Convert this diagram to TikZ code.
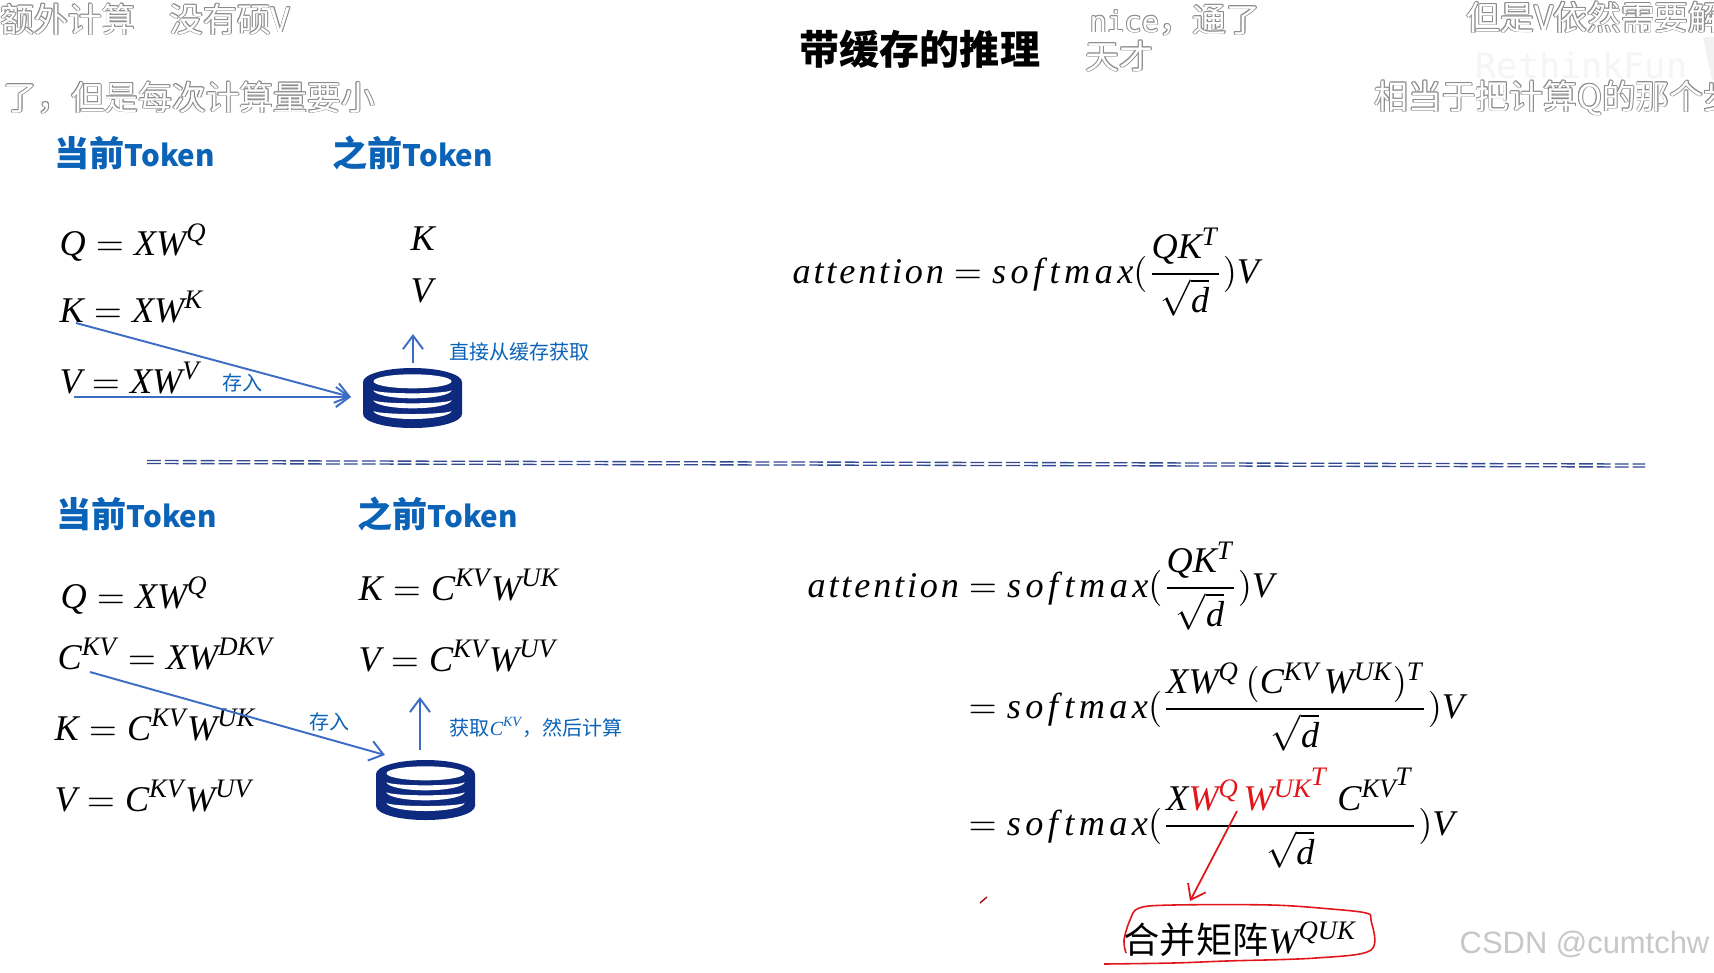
\documentclass[tikz,border=0pt]{standalone}
\usepackage{fix-cm}
\usepackage{amsmath}
\usepackage{fontspec}
\usepackage{xcolor}
\usetikzlibrary{arrows.meta,positioning}
\newfontfamily\cjk{Noto Sans CJK SC}
\newfontfamily\ghostmono{DejaVu Sans Mono}
\newfontfamily\wmark{Liberation Sans}
\newfontfamily\libmath[NFSSFamily=libmath]{Liberation Serif}
\DeclareSymbolFont{letters}{TU}{libmath}{m}{it}
\DeclareMathSizes{10.3}{10.3}{7.6}{6}
\definecolor{headblue}{HTML}{0B63B8}
\definecolor{linkblue}{HTML}{3D6CC4}
\definecolor{stacknavy}{HTML}{0E2A7E}
\definecolor{penred}{HTML}{E0161A}
\definecolor{ghostline}{HTML}{8C8C8C}
\newcommand{\ghostcopy}[3]{\rlap{\kern#1\raisebox{#2}{#3}}}
\newcommand{\ghosttext}[1]{{\color{ghostline}%
    \ghostcopy{.26pt}{0pt}{#1}\ghostcopy{-.26pt}{0pt}{#1}%
    \ghostcopy{0pt}{.26pt}{#1}\ghostcopy{0pt}{-.26pt}{#1}%
    \ghostcopy{.18pt}{.18pt}{#1}\ghostcopy{-.18pt}{.18pt}{#1}%
    \ghostcopy{.18pt}{-.18pt}{#1}\ghostcopy{-.18pt}{-.18pt}{#1}}%
    {\color{white}#1}}
\newcommand{\tok}{{\fontsize{8.4}{10}\selectfont Token}}
\newcommand{\softmax}{s\mkern2.2mu o\mkern2.2mu f\mkern3.2mu t\mkern2.2mu m\mkern2.2mu a\mkern2.2mu x}
\newcommand{\attention}{a\mkern1.4mu t\mkern1.4mu t\mkern1.4mu e\mkern1.4mu n\mkern1.4mu t\mkern1.4mu i\mkern1.4mu o\mkern1.4mu n}
\tikzset{
    heading/.style={
        anchor=base west, inner sep=0pt, text=headblue,
        font=\cjk\bfseries\fontsize{10}{12}\selectfont
    },
    title/.style={
        anchor=base west, inner sep=0pt,
        font=\cjk\bfseries\fontsize{11.4}{13}\selectfont
    },
    eqn/.style={
        anchor=base west, inner sep=0pt,
        font=\fontsize{10.3}{13}\selectfont
    },
    tinylabel/.style={
        anchor=base west, inner sep=0pt, text=headblue,
        font=\cjk\fontsize{5.7}{7}\selectfont
    },
    ghost/.style={
        anchor=base west, inner sep=0pt,
        font=\cjk\fontsize{9.6}{11}\selectfont
    },
    arrow/.style={-{Straight Barb[length=1.35mm,width=2mm]},draw=linkblue,line width=.55pt},
    redarrow/.style={-{Straight Barb[length=1.35mm,width=2mm]},draw=penred,line width=.5pt},
    penloop/.style={draw=penred,line width=.45pt},
    sepline/.style={draw=stacknavy!85!white,line width=.38pt,dash pattern=on 1.38mm off .41mm},
    dbstack/.pic={
        \begin{scope}[y=1cm]
        \fill[stacknavy] (-.495,.16) arc[start angle=180,end angle=0,x radius=.495,y radius=.14]
            -- (.495,-.16) arc[start angle=360,end angle=180,x radius=.495,y radius=.14] -- cycle;
        \fill[white] (0,.167) ellipse[x radius=.39,y radius=.07];
        \foreach \ypos in {.08,-.02,-.127} {
            \fill[white] (-.39,\ypos) arc[start angle=180,end angle=360,x radius=.39,y radius=.083]
                arc[start angle=360,end angle=180,x radius=.39,y radius=.033] -- cycle;
        }
        \end{scope}
    }
}

\begin{document}
\begin{tikzpicture}[x=1cm, y=-1cm]
\useasboundingbox[fill=white] (0,0) rectangle (17.14,9.72);

%% Faint marks behind the subtitles
\fill[black!5] (17.03, .37) -- (17.12, .80) -- (17.14, .80) -- (17.14, .37) -- cycle;
\node[anchor=base west,inner sep=0pt,text=black!4,font=\ghostmono\fontsize{10}{12}\selectfont] (wmA) at (14.75, .78) {RethinkFun};

%% Subtitles burned into the frame
\node[ghost] (subA) at (0, .32)    {\ghosttext{额外计算}};
\node[ghost] (subB) at (1.69, .32) {\ghosttext{没有硕V}};
\node[ghost] (subC) at (.03, 1.10) {\ghosttext{了，但是每次计算量要小}};
\node[ghost] (subD) at (10.89, .32) {\ghosttext{{\ghostmono\fontsize{8.2}{10}\selectfont nice}，通了}};
\node[ghost] (subE) at (10.85, .69) {\ghosttext{天才}};
\node[ghost] (subF) at (14.66, .30) {\ghosttext{但是V依然需要解}};
\node[ghost] (subG) at (13.74, 1.09) {\ghosttext{相当于把计算Q的那个步}};

\node[title] (title) at (7.99, .64) {带缓存的推理};

%% Upper half -- without the split
\node[heading] (curA)  at (.54, 1.66)  {当前\tok};
\node[heading] (prevA) at (3.32, 1.66) {之前\tok};

\node[eqn] (qA) at (.59, 2.55) {$Q = XW^{Q}$};
\node[eqn] (kA) at (.59, 3.22) {$K = XW^{K}$};
\node[eqn] (vA) at (.59, 3.93) {$V = XW^{V}$};
\node[eqn] (kB) at (4.10, 2.50) {$K$};
\node[eqn] (vB) at (4.10, 3.02) {$V$};

\pic at (4.125, 3.98) {dbstack};
\coordinate (dbA)  at (3.51, 3.97);
\coordinate (dbAup) at (4.13, 3.63);
\coordinate (kAtail) at (.76, 3.23);
\coordinate (vAtail) at (.74, 3.97);
\coordinate (vBfoot) at (4.13, 3.34);

\draw[arrow] (kAtail) -- (dbA);
\draw[arrow] (vAtail) -- (dbA);
\draw[arrow] (dbAup) -- (vBfoot);
\node[tinylabel] (saveA) at (2.22, 3.90) {存入};
\node[tinylabel] (readA) at (4.49, 3.59) {直接从缓存获取};

\node[eqn] (attA) at (7.92, 2.83)
    {$\attention = \softmax(\dfrac{QK^{T}}{\sqrt{d}})V$};

%% Separator
\coordinate (sepL) at (1.47, 4.605);
\coordinate (sepR) at (16.45, 4.64);
\draw[sepline] (sepL) -- (sepR);
\draw[sepline] ([yshift=-.3mm]sepL) -- ([yshift=-.3mm]sepR);

%% Lower half -- with the split
\node[heading] (curC)  at (.56, 5.27)  {当前\tok};
\node[heading] (prevC) at (3.57, 5.27) {之前\tok};

\node[eqn] (qC) at (.60, 6.08)  {$Q = XW^{Q}$};
\node[eqn] (cC) at (.57, 6.69)  {$C^{KV} = XW^{DKV}$};
\node[eqn] (kC) at (.54, 7.40)  {$K = C^{KV}W^{UK}$};
\node[eqn] (vC) at (.54, 8.11)  {$V = C^{KV}W^{UV}$};
\node[eqn] (kD) at (3.58, 6.00) {$K = C^{KV}W^{UK}$};
\node[eqn] (vD) at (3.58, 6.71) {$V = C^{KV}W^{UV}$};

\pic at (4.255, 7.90) {dbstack};
\coordinate (dbC)   at (3.85, 7.55);
\coordinate (dbCup) at (4.20, 7.50);
\coordinate (cCtail) at (.90, 6.72);
\coordinate (vDfoot) at (4.20, 6.97);

\draw[arrow] (cCtail) -- (dbC);
\draw[arrow] (dbCup) -- (vDfoot);
\node[tinylabel] (saveC) at (3.09, 7.29) {存入};
\node[tinylabel] (readC) at (4.49, 7.35) {获取$C^{KV}$，然后计算};

\node[eqn] (attC) at (8.07, 5.97)
    {$\attention = \softmax(\dfrac{QK^{T}}{\sqrt{d}})V$};
\node[eqn] (softC) at (9.68, 7.18)
    {$= \softmax(\dfrac{XW^{Q}\mkern3mu(C^{KV}\mkern2mu W^{UK})^{T}}{\sqrt{d}})V$};
\node[eqn] (softD) at (9.68, 8.35)
    {$= \softmax(\dfrac{X\textcolor{penred}{W^{Q}\mkern2mu W^{UK^{\scriptstyle T}}}\mkern4mu C^{KV^{\scriptstyle T}}}{\sqrt{d}})V$};

%% Pen marks
\node[eqn,font=\cjk\fontsize{10.3}{12}\selectfont] (merged) at (11.23, 9.53) {合并矩阵$W^{QUK}$};
\coordinate (penA) at (12.37, 8.11);
\coordinate (penB) at (11.90, 9.01);
\draw[redarrow] (penA) -- (penB);
\draw[penloop] plot[smooth,tension=.55] coordinates {(11.26, 9.53) (11.24, 9.40) (11.30, 9.20) (11.39, 9.08)
    (11.73, 9.05) (12.71, 9.05) (13.31, 9.09) (13.66, 9.13) (13.71, 9.20) (13.71, 9.50)
    (13.16, 9.58) (12.26, 9.61) (11.73, 9.63) (11.04, 9.64)};
\coordinate (tickA) at (9.80, 9.03);
\coordinate (tickB) at (9.87, 8.97);
\draw[draw=penred!70!black,line width=.4pt] (tickA) -- (tickB);

%% Watermark
\node[anchor=base west,inner sep=0pt,text=black!22,font=\wmark\fontsize{8.8}{11}\selectfont] (wmB) at (14.59, 9.53) {CSDN @cumtchw};

\end{tikzpicture}
\end{document}
